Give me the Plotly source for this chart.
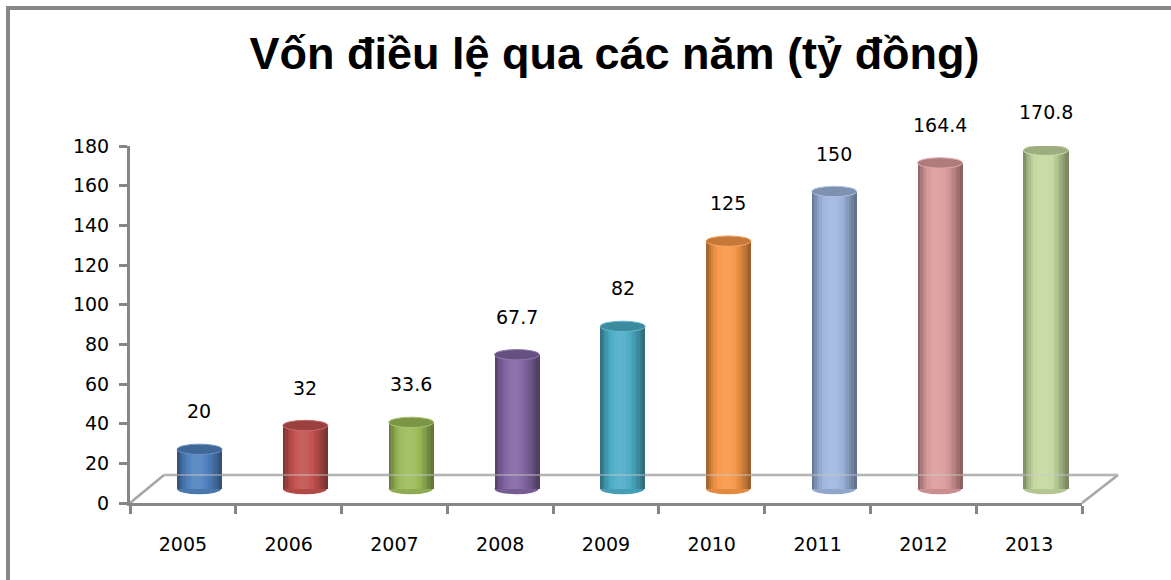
import math
import plotly.graph_objects as go

# ---- data ----
years = ["2005", "2006", "2007", "2008", "2009", "2010", "2011", "2012", "2013"]
values = [20, 32, 33.6, 67.7, 82, 125, 150, 164.4, 170.8]
bar_colors = ["#4F81BD", "#C0504D", "#9BBB59", "#8064A2", "#4BACC6",
              "#F79646", "#9DB5DD", "#DB9A9B", "#C4D89F"]
y_ticks = [0, 20, 40, 60, 80, 100, 120, 140, 160, 180]
title_text = "Vốn điều lệ qua các năm (tỷ đồng)"

# ---- helpers ----
def hex2rgb(h):
    h = h.lstrip("#")
    return tuple(int(h[i:i + 2], 16) for i in (0, 2, 4))

def shade(h, g):
    r = []
    for c in hex2rgb(h):
        if g <= 1:
            v = c * g
        else:
            v = c + (255 - c) * (g - 1)
        r.append(int(max(0, min(255, round(v)))))
    return "rgb(%d,%d,%d)" % tuple(r)

W, H = 1171, 580
L, R, T, B = 130, 89, 146, 77
plot_w = W - L - R
plot_h = H - T - B
ncat = len(years)
cat_px = plot_w / ncat
dx = 16.5 / cat_px            # depth shift (categories)
dy = 14 * 180 / plot_h        # depth shift (value units)
bar_w = 0.42
cap_h = 5.2 * 180 / plot_h    # half-height of cap ellipse in value units

idx = list(range(ncat))
fig = go.Figure()

# invisible trace for the category axis
fig.add_trace(go.Scatter(x=years, y=values, mode="markers", marker=dict(opacity=0),
                         hoverinfo="skip", showlegend=False, xaxis="x", yaxis="y"))

# cylinders as shaded strips
N = 18
sw = bar_w / N
for k in range(N):
    t = (k + 0.5) / N
    g = 0.60 + 0.50 * math.sin(math.pi * t ** 0.85)
    fig.add_trace(go.Bar(
        x=idx, y=values, xaxis="x2", yaxis="y2",
        width=sw * 1.3, offset=-bar_w / 2 + k * sw,
        marker=dict(color=[shade(c, g) for c in bar_colors], line=dict(width=0)),
        hoverinfo="skip", showlegend=False))

shapes = []
# frame
shapes.append(dict(type="rect", xref="paper", yref="paper",
                   x0=(8 - L) / plot_w, x1=1.3, y0=-0.6, y1=(H - B - 8) / plot_h,
                   line=dict(color="#878787", width=4), fillcolor="rgba(0,0,0,0)", layer="below"))
# floor
fy = 28 / plot_h
fx0 = 34 / plot_w
fx1 = 1 + 36 / plot_w
floor_col = "#a6a6a6"
for (a, b, c, d) in [(0, 0, fx0, fy), (1, 0, fx1, fy)]:
    shapes.append(dict(type="line", xref="paper", yref="paper", x0=a, y0=b, x1=c, y1=d,
                       line=dict(color=floor_col, width=2.5), layer="below"))
shapes.append(dict(type="line", xref="paper", yref="paper", x0=fx0, y0=fy, x1=fx1, y1=fy,
                   line=dict(color=floor_col, width=2.5), layer="below"))
shapes.append(dict(type="line", xref="paper", yref="paper", x0=fx0, y0=fy, x1=fx1, y1=fy,
                   line=dict(color="rgba(200,200,200,0.45)", width=2), layer="above"))

for i, v, c in zip(idx, values, bar_colors):
    # bottom rounding
    shapes.append(dict(type="circle", xref="x2", yref="y2",
                       x0=i - bar_w / 2, x1=i + bar_w / 2 - 0.004, y0=-cap_h, y1=cap_h,
                       fillcolor=shade(c, 0.92), line=dict(width=0), layer="below"))
    # top cap
    shapes.append(dict(type="circle", xref="x2", yref="y2",
                       x0=i - bar_w / 2, x1=i + bar_w / 2 + 0.004, y0=v - cap_h, y1=v + cap_h,
                       fillcolor=shade(c, 0.80), line=dict(color=shade(c, 1.15), width=1),
                       layer="above"))

annotations = []
for i, v in zip(idx, values):
    annotations.append(dict(x=i, y=v, xref="x2", yref="y2", text=f"{v:g}",
                            showarrow=False, yshift=38,
                            font=dict(family="DejaVu Sans", size=19, color="#000000")))

fig.update_layout(
    width=W, height=H,
    margin=dict(l=L, r=R, t=T, b=B),
    paper_bgcolor="white", plot_bgcolor="rgba(0,0,0,0)",
    showlegend=False,
    bargap=0, barmode="overlay",
    title=dict(text=title_text, x=596 / W, xanchor="center", xref="paper",
               y=1 - 53 / H, yref="container", yanchor="middle",
               font=dict(family="Liberation Sans", size=45, color="#000000", weight="bold")),
    xaxis=dict(type="category", categoryorder="array", categoryarray=years,
               range=[-0.5, ncat - 0.5], tickson="boundaries", ticks="outside",
               ticklen=8, tickwidth=3, tickcolor="#868686",
               showline=True, linecolor="#868686", linewidth=3,
               showgrid=False, zeroline=False, ticklabelstandoff=22,
               tickfont=dict(family="DejaVu Sans", size=19, color="#000000")),
    yaxis=dict(range=[0, 180], tickvals=y_ticks, ticks="outside", ticklen=8, tickwidth=3,
               tickcolor="#868686", showline=True, linecolor="#868686", linewidth=3,
               showgrid=False, zeroline=False, ticklabelstandoff=6,
               tickfont=dict(family="DejaVu Sans", size=19, color="#000000")),
    xaxis2=dict(overlaying="x", range=[-0.5 - dx, ncat - 0.5 - dx], visible=False,
                showgrid=False, zeroline=False),
    yaxis2=dict(overlaying="y", range=[-dy, 180 - dy], visible=False,
                showgrid=False, zeroline=False),
    shapes=shapes, annotations=annotations,
)

fig.write_html("out.html")
